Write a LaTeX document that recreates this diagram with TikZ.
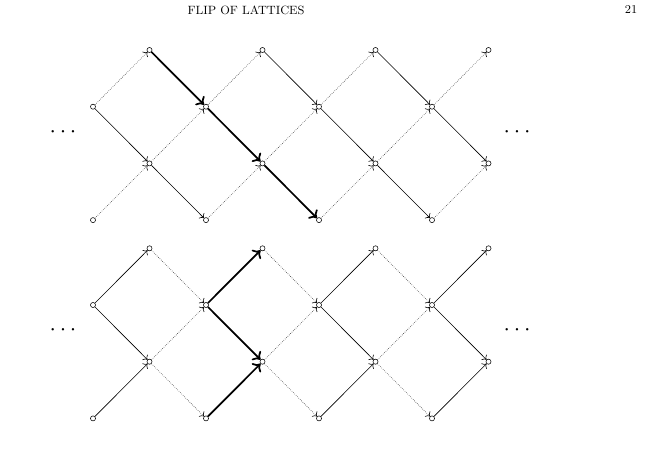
\documentclass[tikz,border=0pt]{standalone}
\usetikzlibrary{arrows.meta}
\begin{document}
\begin{tikzpicture}[x=0.75pt,y=-0.75pt,
  vtx/.style={circle,draw,inner sep=0pt,minimum size=3.8pt,line width=0.4pt,fill=white},
  sol/.style={line width=0.45pt,-{To[length=2.8pt,width=5.6pt]}},
  dts/.style={densely dotted,line width=0.45pt,black!75,-{To[length=2.8pt,width=5.6pt,color=black]}},
  hl/.style={line width=1.3pt,-{To[length=5pt,width=9.5pt]}},
  dotsl/.style={font=\fontsize{17.7}{20}\selectfont},
  head/.style={font=\fontsize{9}{10}\selectfont}]
\useasboundingbox (0,0) rectangle (655,449);
\node[head] (title) at (246,10) {FLIP OF LATTICES};
\node[head] (page) at (631,10) {21};
% vertices
\foreach \i in {0,...,7} {
  \pgfmathsetmacro\xx{93+56.5*\i}
  \pgfmathtruncatemacro\r{mod(\i+1,2)}
  \pgfmathtruncatemacro\rr{\r+2}
  \foreach \j in {\r,\rr} {
    \pgfmathsetmacro\yt{50+56.7*\j}
    \pgfmathsetmacro\yb{248.3+56.7*\j}
    \node[vtx] (t-\i-\j) at (\xx,\yt) {};
    \node[vtx] (b-\i-\j) at (\xx,\yb) {};
  }
}
% edges
\foreach \i/\bs in {0/sol,1/dts,2/hl,3/dts,4/sol,5/dts,6/sol} {
  \pgfmathtruncatemacro\ni{\i+1}
  \pgfmathtruncatemacro\r{mod(\i+1,2)}
  \pgfmathtruncatemacro\rr{\r+2}
  \foreach \j in {\r,\rr} {
    \pgfmathtruncatemacro\dn{\j+1}
    \pgfmathtruncatemacro\up{\j-1}
    \pgfmathtruncatemacro\thk{(\i-\j==1)*(\i<4)}
    \ifnum\j<3
      \ifnum\thk=1
        \draw[hl] (t-\i-\j) -- (t-\ni-\dn);
      \else
        \draw[sol] (t-\i-\j) -- (t-\ni-\dn);
      \fi
      \draw[\bs] (b-\i-\j) -- (b-\ni-\dn);
    \fi
    \ifnum\j>0
      \draw[dts] (t-\i-\j) -- (t-\ni-\up);
      \draw[\bs] (b-\i-\j) -- (b-\ni-\up);
    \fi
  }
}
\node[dotsl] (dl1) at (63,132) {$\cdots$};
\node[dotsl] (dr1) at (517,132) {$\cdots$};
\node[dotsl] (dl2) at (63,330) {$\cdots$};
\node[dotsl] (dr2) at (517,330) {$\cdots$};
\end{tikzpicture}
\end{document}
